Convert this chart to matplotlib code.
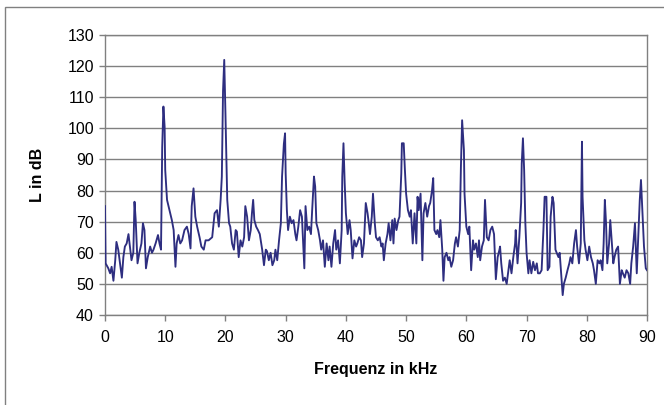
import matplotlib.pyplot as plt
from matplotlib.patches import Rectangle

# Frequenz (kHz) und Pegel (dB)
freq_khz = [
    0.0, 0.1, 0.55, 0.85, 1.1, 1.4, 1.7, 1.9, 2.2, 2.5, 2.8, 3.05, 3.3, 3.6, 3.9,
    4.2, 4.4, 4.7, 4.9, 5.1, 5.4, 5.7, 6.05, 6.3, 6.55, 6.8, 7.1, 7.5, 7.8, 8.05,
    8.4, 8.8, 9.05, 9.3, 9.5, 9.7, 9.9, 10.0, 10.3, 10.7, 11.1, 11.4, 11.7, 11.9,
    12.2, 12.5, 12.8, 13.2, 13.6, 13.9, 14.2, 14.4, 14.7, 15.0, 15.3, 15.7, 16.0,
    16.4, 16.7, 17.2, 17.8, 18.2, 18.6, 18.9, 19.2, 19.4, 19.6, 19.8, 20.0, 20.3,
    20.6, 20.8, 21.1, 21.4, 21.7, 21.9, 22.2, 22.5, 22.8, 23.1, 23.3, 23.6, 23.9,
    24.2, 24.4, 24.6, 24.8, 25.1, 25.4, 25.7, 26.1, 26.4, 26.7, 26.9, 27.2, 27.5,
    27.8, 28.1, 28.3, 28.6, 28.9, 29.2, 29.4, 29.7, 29.9, 30.0, 30.2, 30.4, 30.7,
    31.0, 31.3, 31.6, 31.8, 32.1, 32.4, 32.7, 33.1, 33.3, 33.6, 33.9, 34.2, 34.4,
    34.7, 34.9, 35.1, 35.4, 35.7, 35.9, 36.2, 36.5, 36.8, 37.1, 37.3, 37.6, 37.9,
    38.2, 38.4, 38.7, 39.0, 39.3, 39.4, 39.6, 39.8, 40.0, 40.3, 40.6, 40.8, 41.1,
    41.4, 41.7, 41.9, 42.2, 42.5, 42.7, 43.0, 43.3, 43.6, 43.8, 44.0, 44.3, 44.5,
    44.8, 45.0, 45.3, 45.6, 45.9, 46.1, 46.3, 46.6, 46.9, 47.1, 47.4, 47.7, 47.9,
    48.1, 48.4, 48.7, 48.9, 49.2, 49.3, 49.6, 49.8, 50.0, 50.3, 50.6, 50.8, 51.1,
    51.4, 51.7, 51.9, 52.1, 52.4, 52.7, 52.9, 53.2, 53.5, 53.8, 54.0, 54.3, 54.5,
    54.7, 55.0, 55.2, 55.5, 55.7, 56.0, 56.2, 56.4, 56.7, 57.0, 57.2, 57.5, 57.8,
    58.1, 58.3, 58.6, 58.9, 59.1, 59.3, 59.6, 59.7, 60.0, 60.3, 60.5, 60.8, 61.1,
    61.3, 61.6, 61.9, 62.1, 62.3, 62.6, 62.9, 63.1, 63.4, 63.7, 64.0, 64.3, 64.6,
    64.9, 65.2, 65.5, 65.6, 65.8, 66.1, 66.4, 66.7, 67.0, 67.2, 67.5, 67.8, 68.1,
    68.2, 68.5, 68.8, 69.1, 69.2, 69.4, 69.6, 69.8, 70.0, 70.3, 70.5, 70.8, 71.1,
    71.4, 71.7, 71.9, 72.2, 72.5, 72.8, 73.0, 73.3, 73.5, 73.8, 74.0, 74.3, 74.5,
    74.8, 75.0, 75.3, 75.5, 75.7, 76.0, 76.2, 76.5, 76.8, 77.1, 77.3, 77.6, 77.9,
    78.2, 78.4, 78.7, 79.0, 79.2, 79.3, 79.6, 79.8, 80.1, 80.4, 80.7, 81.0, 81.2,
    81.5, 81.8, 82.1, 82.3, 82.6, 82.8, 83.0, 83.2, 83.4, 83.7, 83.9, 84.1, 84.4,
    84.6, 84.9, 85.2, 85.5, 85.8, 86.0, 86.3, 86.6, 86.9, 87.2, 87.4, 87.7, 88.0,
    88.3, 88.5, 88.8, 89.0, 89.3, 89.5, 89.8, 90.0,
]
level_db = [
    75.0, 56.6, 55.0, 53.4, 55.5, 51.0, 57.6, 63.5, 61.0, 56.6, 52.0, 58.6, 62.0, 63.0, 66.0,
    61.0, 57.6, 60.0, 76.4, 70.5, 56.6, 60.0, 63.0, 69.5, 67.3, 55.0, 58.6, 62.0, 60.0, 61.0,
    63.0, 65.7, 63.0, 61.0, 94.0, 107.0, 100.5, 86.6, 77.0, 73.7, 70.5, 67.3, 55.5, 63.0,
    65.7, 63.0, 64.0, 67.3, 68.4, 66.0, 61.4, 75.0, 80.7, 71.6, 68.4, 65.0, 62.0,
    61.0, 64.0, 64.0, 65.0, 72.7, 73.7, 68.4, 77.0, 84.5, 112.0, 122.0, 104.8, 77.0,
    69.5, 68.4, 63.0, 61.0, 67.3, 66.8, 58.6, 64.0, 62.0, 65.0, 75.0, 71.6, 64.0,
    67.3, 72.7, 77.0, 70.5, 68.4, 67.3, 66.0, 61.0, 56.0, 61.0, 60.5, 57.6, 60.0,
    56.0, 57.6, 61.0, 57.6, 64.0, 69.5, 84.5, 95.0, 98.4, 85.5, 73.7, 67.3, 71.6,
    69.5, 70.5, 66.0, 64.0, 68.4, 73.7, 71.6, 55.0, 75.0, 67.3, 68.4, 66.0, 73.7,
    84.5, 81.3, 69.5, 67.3, 64.0, 61.0, 64.0, 55.5, 63.0, 57.6, 62.0, 55.5, 63.0,
    67.3, 61.0, 64.0, 56.6, 67.3, 84.5, 95.2, 82.4, 72.7, 66.0, 70.5, 67.3, 58.2,
    64.0, 62.0, 63.0, 65.0, 64.0, 58.6, 63.0, 76.0, 72.7, 69.5, 66.0, 71.6, 79.0,
    69.5, 65.0, 64.0, 65.0, 62.0, 63.0, 57.6, 63.0, 66.0, 69.5, 64.0, 70.5, 63.0,
    71.0, 67.3, 70.5, 71.6, 85.5, 95.2, 95.2, 86.6, 79.0, 73.7, 71.6, 73.7, 63.0,
    72.7, 63.0, 78.0, 73.7, 79.0, 57.6, 72.7, 76.0, 71.6, 75.0, 76.0, 80.0, 84.0,
    67.3, 66.0, 67.3, 65.0, 70.5, 61.0, 51.0, 58.6, 60.0, 57.6, 58.6, 55.5, 57.6,
    63.0, 65.0, 62.0, 67.3, 87.6, 102.6, 93.0, 79.0, 68.4, 66.0, 68.4, 54.4, 64.0,
    61.0, 63.0, 58.6, 64.0, 57.6, 62.0, 64.0, 77.0, 65.0, 64.0, 67.3, 68.4, 66.0,
    51.5, 58.6, 61.0, 62.0, 56.6, 51.0, 52.0, 50.0, 54.4, 57.6, 53.4, 58.6, 63.0,
    67.3, 56.6, 65.0, 76.0, 88.7, 96.8, 86.6, 69.5, 60.0, 53.4, 57.6, 53.4, 57.1,
    54.4, 56.6, 53.4, 53.4, 54.4, 67.3, 78.0, 78.0, 54.4, 55.5, 71.6, 78.0, 76.0,
    61.0, 60.0, 58.6, 60.0, 54.4, 46.4, 50.0, 52.0, 54.4, 56.6, 58.6, 56.6, 63.0,
    67.3, 62.0, 56.6, 63.0, 95.7, 78.0, 64.0, 61.0, 57.6, 62.0, 58.6, 56.6, 54.4,
    50.0, 57.6, 56.6, 57.6, 54.4, 63.0, 77.0, 69.5, 56.6, 63.0, 70.5, 65.0, 56.6,
    58.6, 61.0, 62.0, 50.0, 54.4, 53.4, 52.0, 54.4, 53.4, 50.0, 56.6, 62.0, 69.5,
    53.4, 63.0, 77.0, 83.4, 70.5, 62.0, 55.0, 54.4,
]
x_ticks = list(range(0, 91, 10))
y_ticks = list(range(40, 131, 10))

plt.rcParams['font.family'] = ['Liberation Sans', 'DejaVu Sans']

fig = plt.figure(figsize=(6.64, 4.05), dpi=100)
fig.patch.set_facecolor('white')

# Rahmen um das Diagramm (wie im Excel-Export, rechts/unten abgeschnitten)
fig.patches.append(Rectangle((5 / 664, -0.1), 1.2, 1 - 7 / 405 + 0.1,
                             transform=fig.transFigure, fill=False,
                             edgecolor='#808080', linewidth=1.0))

ax = fig.add_axes([105 / 664, 1 - 315 / 405, (647 - 105) / 664, (315 - 35) / 405])
ax.plot(freq_khz, level_db, color='#2e2e80', linewidth=1.35, zorder=3)

ax.set_xlim(0, 90)
ax.set_ylim(40, 130)
ax.set_xticks(x_ticks)
ax.set_yticks(y_ticks)
ax.yaxis.grid(True, color='#808080', linewidth=1.0)
ax.set_axisbelow(True)

for sp in ax.spines.values():
    sp.set_color('#808080')
    sp.set_linewidth(1.0)

ax.tick_params(axis='both', direction='out', length=4, width=1.0, color='#808080',
               labelsize=11.5, labelcolor='black', pad=4)
ax.tick_params(axis='x', pad=7)

ax.set_xlabel('Frequenz in kHz', fontsize=11.5, fontweight='bold', labelpad=12)
ax.set_ylabel('L in dB', fontsize=11.5, fontweight='bold', labelpad=16)

fig.savefig('out.png', dpi=100, facecolor='white')
